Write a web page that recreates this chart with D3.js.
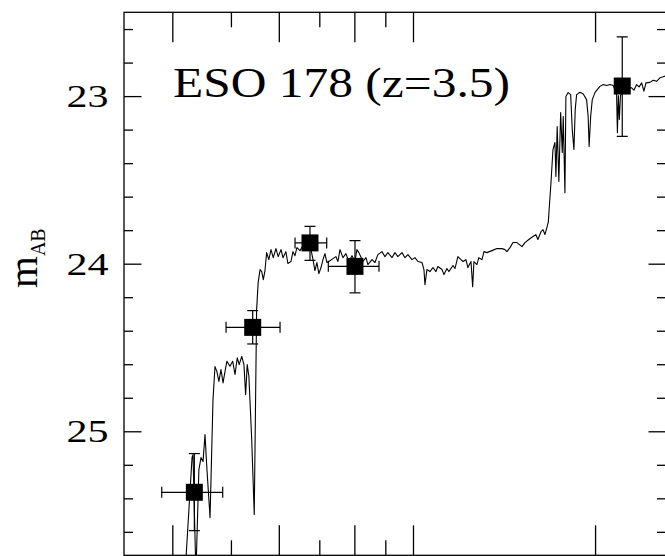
<!DOCTYPE html>
<html>
<head>
<meta charset="utf-8">
<script src="https://cdn.jsdelivr.net/npm/d3@7/dist/d3.min.js"></script>
<style>
	body { margin: 0; background: #fff; }
	svg { display: block; }
	text { font-family: "Liberation Serif", "DejaVu Serif", serif; fill: #000; }
</style>
</head>
<body>
<svg id="chart" width="665" height="556"></svg>
<script>
// model spectrum, wavelength (axis units) and AB magnitude
var spec_lam = [2.099, 2.156, 2.164, 2.188, 2.213, 2.231, 2.248, 2.265, 2.282, 2.309,
	2.335, 2.353, 2.370, 2.388, 2.407, 2.426, 2.444, 2.462, 2.491, 2.517,
	2.539, 2.561, 2.580, 2.605, 2.627, 2.644, 2.660, 2.677, 2.706, 2.732,
	2.757, 2.773, 2.793, 2.811, 2.828, 2.846, 2.864, 2.888, 2.912, 2.937,
	2.967, 2.993, 3.025, 3.048, 3.082, 3.105, 3.142, 3.166, 3.190, 3.214,
	3.252, 3.289, 3.326, 3.351, 3.391, 3.417, 3.442, 3.468, 3.494, 3.523,
	3.549, 3.576, 3.603, 3.645, 3.687, 3.729, 3.757, 3.787, 3.830, 3.873,
	3.917, 3.964, 4.009, 4.039, 4.069, 4.133, 4.180, 4.211, 4.277, 4.326,
	4.374, 4.443, 4.494, 4.544, 4.616, 4.668, 4.720, 4.795, 4.849, 4.904,
	4.981, 5.037, 5.094, 5.174, 5.213, 5.233, 5.272, 5.334, 5.395, 5.456,
	5.497, 5.583, 5.626, 5.689, 5.731, 5.822, 5.866, 5.932, 6.002, 6.048,
	6.116, 6.162, 6.235, 6.275, 6.306, 6.377, 6.425, 6.502, 6.551, 6.625,
	6.754, 6.882, 7.016, 7.096, 7.149, 7.233, 7.316, 7.426, 7.571, 7.657,
	7.771, 7.894, 7.984, 8.043, 8.139, 8.201, 8.262, 8.324, 8.371, 8.402,
	8.455, 8.519, 8.583, 8.615, 8.657, 8.712, 8.772, 8.826, 8.859, 8.916,
	8.949, 9.026, 9.113, 9.168, 9.227, 9.272, 9.321, 9.441, 9.560, 9.682,
	9.740, 9.776, 9.834, 9.894, 9.996, 10.084, 10.188, 10.316, 10.448, 10.584,
	10.717, 10.854, 10.887, 10.927, 10.968, 11.015, 11.204, 11.329, 11.495, 11.595,
	11.713, 11.826, 11.941, 12.045, 12.136, 12.324, 12.479, 12.639, 12.802, 12.963,
	13.095];
var spec_mag = [25.855, 25.157, 25.139, 25.855, 25.229, 25.157, 25.181, 25.020, 25.229, 25.515,
	24.811, 24.614, 24.644, 24.702, 24.632, 24.711, 24.644, 24.582, 24.612, 24.582,
	24.661, 24.562, 24.602, 24.553, 24.602, 24.781, 24.602, 24.673, 25.050, 25.497,
	24.274, 24.113, 24.035, 24.047, 24.095, 24.041, 23.934, 23.976, 23.916, 23.964,
	23.910, 23.958, 23.916, 23.964, 23.928, 23.999, 23.987, 23.928, 23.952, 23.904,
	23.922, 23.892, 23.910, 23.880, 23.916, 23.976, 24.041, 23.993, 24.059, 24.023,
	23.976, 23.940, 23.993, 23.982, 23.970, 23.958, 23.987, 23.916, 23.964, 23.940,
	23.987, 23.952, 23.987, 23.916, 23.934, 23.987, 23.964, 24.005, 23.976, 23.993,
	23.946, 23.928, 23.958, 23.934, 23.964, 23.934, 23.958, 23.934, 23.964, 23.946,
	23.976, 23.964, 23.987, 23.993, 24.035, 24.125, 24.035, 24.047, 24.023, 24.047,
	24.017, 24.035, 24.065, 24.029, 24.047, 24.011, 24.029, 23.958, 23.976, 23.987,
	23.976, 24.023, 23.987, 24.137, 23.987, 24.005, 23.964, 23.976, 23.928, 23.934,
	23.922, 23.910, 23.910, 23.916, 23.928, 23.904, 23.874, 23.874, 23.898, 23.874,
	23.856, 23.838, 23.827, 23.856, 23.809, 23.797, 23.826, 23.785, 23.749, 23.659,
	23.516, 23.319, 23.277, 23.480, 23.182, 23.510, 23.098, 23.337, 23.122, 23.576,
	23.003, 22.979, 22.991, 23.200, 23.319, 23.081, 22.991, 22.977, 22.987, 23.021,
	23.122, 23.301, 23.122, 23.021, 22.979, 22.961, 22.942, 22.931, 22.937, 22.931,
	22.937, 22.991, 23.218, 22.997, 23.140, 22.997, 22.949, 22.949, 22.951, 22.965,
	22.931, 22.945, 22.921, 22.971, 22.921, 22.918, 22.906, 22.912, 22.891, 22.885,
	22.878];

// broad-band photometry with error bars
var phot_lam = [2.175, 2.716, 3.378, 4.009, 11.09];
var phot_mag = [25.364, 24.380, 23.876, 24.016, 22.940];
var phot_lam_lo = [1.921, 2.454, 3.191, 3.622, null];
var phot_lam_hi = [2.423, 3.014, 3.600, 4.393, null];
var phot_mag_lo = [25.133, 24.280, 23.777, 23.862, 22.647];
var phot_mag_hi = [25.593, 24.479, 23.980, 24.174, 23.240];

var x_major = [2, 3, 4, 5, 10];
var x_minor = [2.5, 3.5, 4.5];
var y_major = [23, 24, 25];
var y_minor = [22.6, 22.8, 23.2, 23.4, 23.6, 23.8, 24.2, 24.4, 24.6, 24.8, 25.2, 25.4, 25.6];
var title_text = 'ESO 178 (z=3.5)';

var frame = { left: 124, right: 666, top: 12.3, bottom: 555.3 };

var x = d3.scaleLog().domain([1.664, 13.10]).range([frame.left, frame.right]);
var y = d3.scaleLinear().domain([22.5, 25.74]).range([frame.top, frame.bottom]);

var svg = d3.select('#chart');

svg.append('clipPath')
	.attr('id', 'plot-clip')
	.append('rect')
	.attr('x', frame.left).attr('y', frame.top)
	.attr('width', frame.right - frame.left)
	.attr('height', frame.bottom - frame.top);

// Frame.
svg.append('rect')
	.attr('x', frame.left).attr('y', frame.top)
	.attr('width', frame.right - frame.left)
	.attr('height', frame.bottom - frame.top)
	.style('fill', 'none')
	.style('stroke', '#000')
	.style('stroke-width', 1.3);

// Axes, ticks inward on all four sides.
var axes = [
	d3.axisBottom(x).tickValues(x_major).tickSize(30),
	d3.axisBottom(x).tickValues(x_minor).tickSize(15),
	d3.axisTop(x).tickValues(x_major).tickSize(30),
	d3.axisTop(x).tickValues(x_minor).tickSize(15),
	d3.axisLeft(y).tickValues(y_major).tickSize(17.5),
	d3.axisLeft(y).tickValues(y_minor).tickSize(9),
	d3.axisRight(y).tickValues(y_major).tickSize(17.5),
	d3.axisRight(y).tickValues(y_minor).tickSize(9)
];
var axis_pos = [
	[0, frame.top], [0, frame.top], [0, frame.bottom], [0, frame.bottom],
	[frame.right, 0], [frame.right, 0], [frame.left, 0], [frame.left, 0]
];
axes.forEach(function(ax, i) {
	var g = svg.append('g')
		.attr('transform', 'translate(' + axis_pos[i][0] + ',' + axis_pos[i][1] + ')')
		.call(ax.tickFormat(''));
	g.select('.domain').remove();
	g.selectAll('.tick line').style('stroke', '#000').style('stroke-width', 1.3);
});

// Y tick labels.
svg.selectAll('.ylab')
	.data(y_major)
	.enter().append('text')
	.attr('class', 'ylab')
	.attr('x', 108.5)
	.attr('y', d => y(d) + 11)
	.attr('text-anchor', 'end')
	.attr('textLength', 42)
	.attr('lengthAdjust', 'spacingAndGlyphs')
	.style('font-size', '32px')
	.text(d => d);

// Y axis title m_AB.
var ytitle = svg.append('text')
	.attr('transform', 'translate(37,288)rotate(-90)')
	.style('font-size', '41px');
ytitle.append('tspan').text('m');
ytitle.append('tspan')
	.attr('dy', 8)
	.style('font-size', '20px')
	.text('AB');

// Title.
svg.append('text')
	.attr('x', 173)
	.attr('y', 96.7)
	.attr('textLength', 337)
	.attr('lengthAdjust', 'spacingAndGlyphs')
	.style('font-size', '43px')
	.text(title_text);

// Spectrum.
var spec = spec_lam.map((d, i) => ({ lam: d, mag: spec_mag[i] }));
svg.append('path')
	.datum(spec)
	.attr('clip-path', 'url(#plot-clip)')
	.attr('d', d3.line().x(d => x(d.lam)).y(d => y(d.mag)))
	.style('fill', 'none')
	.style('stroke', '#000')
	.style('stroke-width', 1.1)
	.style('stroke-linejoin', 'round');

// Photometric points.
var phot = phot_lam.map((d, i) => ({
	lam: d, mag: phot_mag[i],
	lo: phot_lam_lo[i], hi: phot_lam_hi[i],
	mlo: phot_mag_lo[i], mhi: phot_mag_hi[i]
}));
var cap = 5.5;
var pts = svg.append('g').attr('clip-path', 'url(#plot-clip)')
	.selectAll('.phot')
	.data(phot)
	.enter().append('g')
	.attr('class', 'phot')
	.style('stroke', '#000')
	.style('stroke-width', 1.2);

pts.append('line')
	.attr('x1', d => x(d.lam)).attr('x2', d => x(d.lam))
	.attr('y1', d => y(d.mlo)).attr('y2', d => y(d.mhi));
pts.append('line')
	.attr('x1', d => x(d.lam) - cap).attr('x2', d => x(d.lam) + cap)
	.attr('y1', d => y(d.mlo)).attr('y2', d => y(d.mlo));
pts.append('line')
	.attr('x1', d => x(d.lam) - cap).attr('x2', d => x(d.lam) + cap)
	.attr('y1', d => y(d.mhi)).attr('y2', d => y(d.mhi));

var hbars = pts.filter(d => d.lo !== null);
hbars.append('line')
	.attr('x1', d => x(d.lo)).attr('x2', d => x(d.hi))
	.attr('y1', d => y(d.mag)).attr('y2', d => y(d.mag));
hbars.append('line')
	.attr('x1', d => x(d.lo)).attr('x2', d => x(d.lo))
	.attr('y1', d => y(d.mag) - cap).attr('y2', d => y(d.mag) + cap);
hbars.append('line')
	.attr('x1', d => x(d.hi)).attr('x2', d => x(d.hi))
	.attr('y1', d => y(d.mag) - cap).attr('y2', d => y(d.mag) + cap);

pts.append('rect')
	.attr('x', d => x(d.lam) - 8.5)
	.attr('y', d => y(d.mag) - 8.5)
	.attr('width', 17)
	.attr('height', 17)
	.style('fill', '#000')
	.style('stroke', 'none');
</script>
</body>
</html>
